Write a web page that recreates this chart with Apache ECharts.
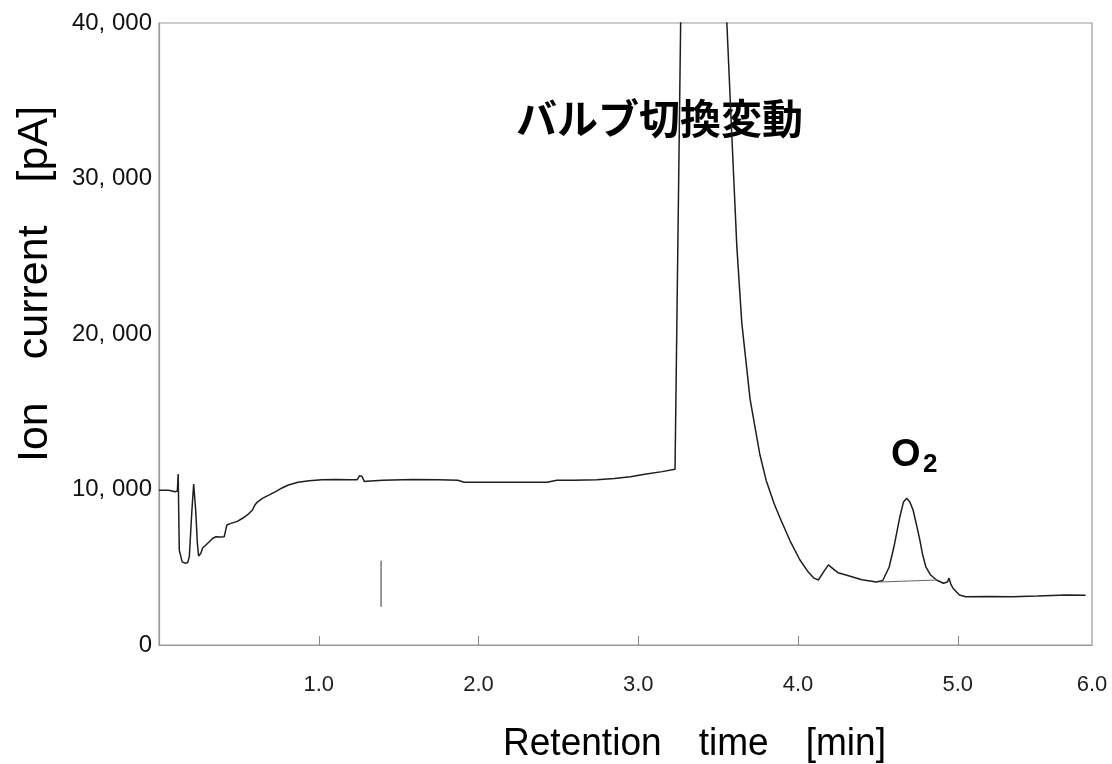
<!DOCTYPE html>
<html>
<head>
<meta charset="utf-8">
<title>Ion current chromatogram</title>
<script src="https://cdn.jsdelivr.net/npm/echarts@6/dist/echarts.min.js"></script>
<style>
  html, body { margin: 0; padding: 0; background: #ffffff; }
  #chart { width: 1112px; height: 764px; }
</style>
</head>
<body>
<div id="chart"></div>
<script>
// Chromatogram trace: retention time [min] and ion current [pA]
const retentionTime = [
  0.00, 0.06, 0.10, 0.115, 0.12, 0.127, 0.145, 0.165, 0.18, 0.19,
  0.205, 0.217, 0.23, 0.24, 0.248, 0.262, 0.273, 0.295, 0.315, 0.335,
  0.356, 0.385, 0.408, 0.418, 0.425, 0.45, 0.49, 0.523, 0.555, 0.585,
  0.60, 0.617, 0.65, 0.69, 0.73, 0.77, 0.81, 0.87, 0.94, 1.02,
  1.106, 1.20, 1.24, 1.255, 1.27, 1.285, 1.30, 1.40, 1.59, 1.75,
  1.87, 1.91, 2.10, 2.30, 2.43, 2.49, 2.60, 2.74, 2.85, 2.95,
  3.05, 3.15, 3.23, 3.275, 3.52, 3.585, 3.617, 3.648, 3.70, 3.76,
  3.80, 3.85, 3.89, 3.95, 4.01, 4.06, 4.10, 4.127, 4.16, 4.19,
  4.22, 4.25, 4.30, 4.40, 4.49, 4.53, 4.57, 4.60, 4.6375, 4.66,
  4.68, 4.70, 4.72, 4.74, 4.7625, 4.78, 4.80, 4.83, 4.867, 4.91,
  4.935, 4.945, 4.955, 4.97, 5.01, 5.05, 5.20, 5.34, 5.50, 5.68,
  5.80
];
const ionCurrent = [
  9950, 9950, 9850, 9900, 11000, 6100, 5350, 5250, 5300, 5700,
  8500, 10350, 8600, 6560, 5720, 5900, 6240, 6450, 6640, 6850,
  6960, 6950, 6960, 7400, 7720, 7820, 7950, 8150, 8380, 8680,
  9000, 9210, 9450, 9650, 9860, 10100, 10290, 10470, 10570, 10630,
  10650, 10620, 10620, 10880, 10850, 10520, 10530, 10600, 10640, 10620,
  10600, 10470, 10460, 10460, 10460, 10600, 10600, 10620, 10700, 10820,
  11000, 11150, 11300, 48000, 48000, 32880, 25600, 20700, 15800, 12300,
  10600, 9100, 8100, 6700, 5500, 4750, 4300, 4180, 4700, 5150,
  4900, 4650, 4500, 4200, 4050, 4150, 5000, 6300, 8250, 9200,
  9430, 9200, 8680, 7800, 6750, 5800, 5030, 4500, 4180, 3970,
  4050, 4300, 3950, 3650, 3215, 3100, 3120, 3100, 3150, 3215,
  3200
];

// Integration baseline drawn under the O2 peak
const o2BaselineTime = [4.51, 4.87];
const o2BaselineCurrent = [4050, 4180];

// Injection marker
const markerTime = [1.39, 1.39];
const markerCurrent = [2460, 5420];

// Axis ticks and labels
const xTickValues = [1, 2, 3, 4, 5];
const xLabelValues = [1, 2, 3, 4, 5, 5.84];
const xTickLabels = ['1.0', '2.0', '3.0', '4.0', '5.0', '6.0'];
const xMax = 5.84;
const yTicks = [0, 10000, 20000, 30000, 40000];

// Annotation texts
const valveLabel = 'バルブ切換変動';
const xTitle = 'Retention　time　[min]';
const yTitle = 'Ion　current　[pA]';

const pair = (xs, ys) => xs.map((x, i) => [x, ys[i]]);

function formatCurrent(v) {
  const thousands = Math.floor(v / 1000);
  const rest = String(v % 1000).padStart(3, '0');
  return v >= 1000 ? thousands + ', ' + rest : String(v);
}

const chart = echarts.init(document.getElementById('chart'), null, { renderer: 'canvas' });

const latin = '"Liberation Sans", Arial, sans-serif';
const cjk = '"Noto Sans CJK JP", sans-serif';

chart.setOption({
  backgroundColor: '#ffffff',
  animation: false,
  grid: {
    left: 159, right: 20, top: 23, bottom: 119,
    show: true, borderColor: '#9a9a9a', borderWidth: 1.2,
    backgroundColor: 'transparent'
  },
  xAxis: {
    type: 'value',
    min: 0,
    max: xMax,
    axisLine: { show: true, lineStyle: { color: '#9a9a9a', width: 1.2 } },
    axisTick: {
      show: true, inside: true, length: 9,
      customValues: xTickValues,
      lineStyle: { color: '#8a8a8a', width: 1 }
    },
    axisLabel: {
      customValues: xLabelValues,
      formatter: (v) => xTickLabels[xLabelValues.indexOf(v)] || '',
      fontFamily: latin, fontSize: 22, color: '#1e1e1e', margin: 29
    },
    splitLine: { show: false }
  },
  yAxis: {
    type: 'value',
    min: 0,
    max: 40000,
    interval: 10000,
    axisLine: { show: true, lineStyle: { color: '#9a9a9a', width: 1.2 } },
    axisTick: { show: false },
    axisLabel: {
      formatter: (v) => yTicks.indexOf(v) >= 0 ? formatCurrent(v) : '',
      fontFamily: latin, fontSize: 24, color: '#111111', margin: 7
    },
    splitLine: { show: false }
  },
  series: [
    {
      name: 'Ion current',
      type: 'line',
      data: pair(retentionTime, ionCurrent),
      showSymbol: false,
      clip: true,
      lineStyle: { color: '#1e1e1e', width: 1.5 }
    },
    {
      name: 'O2 baseline',
      type: 'line',
      data: pair(o2BaselineTime, o2BaselineCurrent),
      showSymbol: false,
      lineStyle: { color: '#666666', width: 1.1 }
    },
    {
      name: 'Injection',
      type: 'line',
      data: pair(markerTime, markerCurrent),
      showSymbol: false,
      lineStyle: { color: '#444444', width: 1.1 }
    }
  ],
  graphic: [
    {
      type: 'text', left: 516, top: 98,
      style: { text: valveLabel, font: 'bold 41px ' + cjk, fill: '#000000' }
    },
    {
      type: 'text', left: 891, top: 437,
      style: { text: 'O', font: 'bold 38px ' + latin, fill: '#000000' }
    },
    {
      type: 'text', left: 923, top: 452,
      style: { text: '2', font: 'bold 26px ' + latin, fill: '#000000' }
    },
    {
      type: 'text', x: 503, y: 725, scaleX: 0.95,
      style: { text: xTitle, x: 0, y: 0, textAlign: 'left', textVerticalAlign: 'top',
               font: '39px ' + latin, fill: '#000000' }
    },
    {
      type: 'text', x: 14, y: 462, rotation: Math.PI / 2,
      style: { text: yTitle, x: 0, y: 0, textAlign: 'left', textVerticalAlign: 'top',
               font: '43px ' + latin, fill: '#000000' }
    }
  ]
});
</script>
</body>
</html>
